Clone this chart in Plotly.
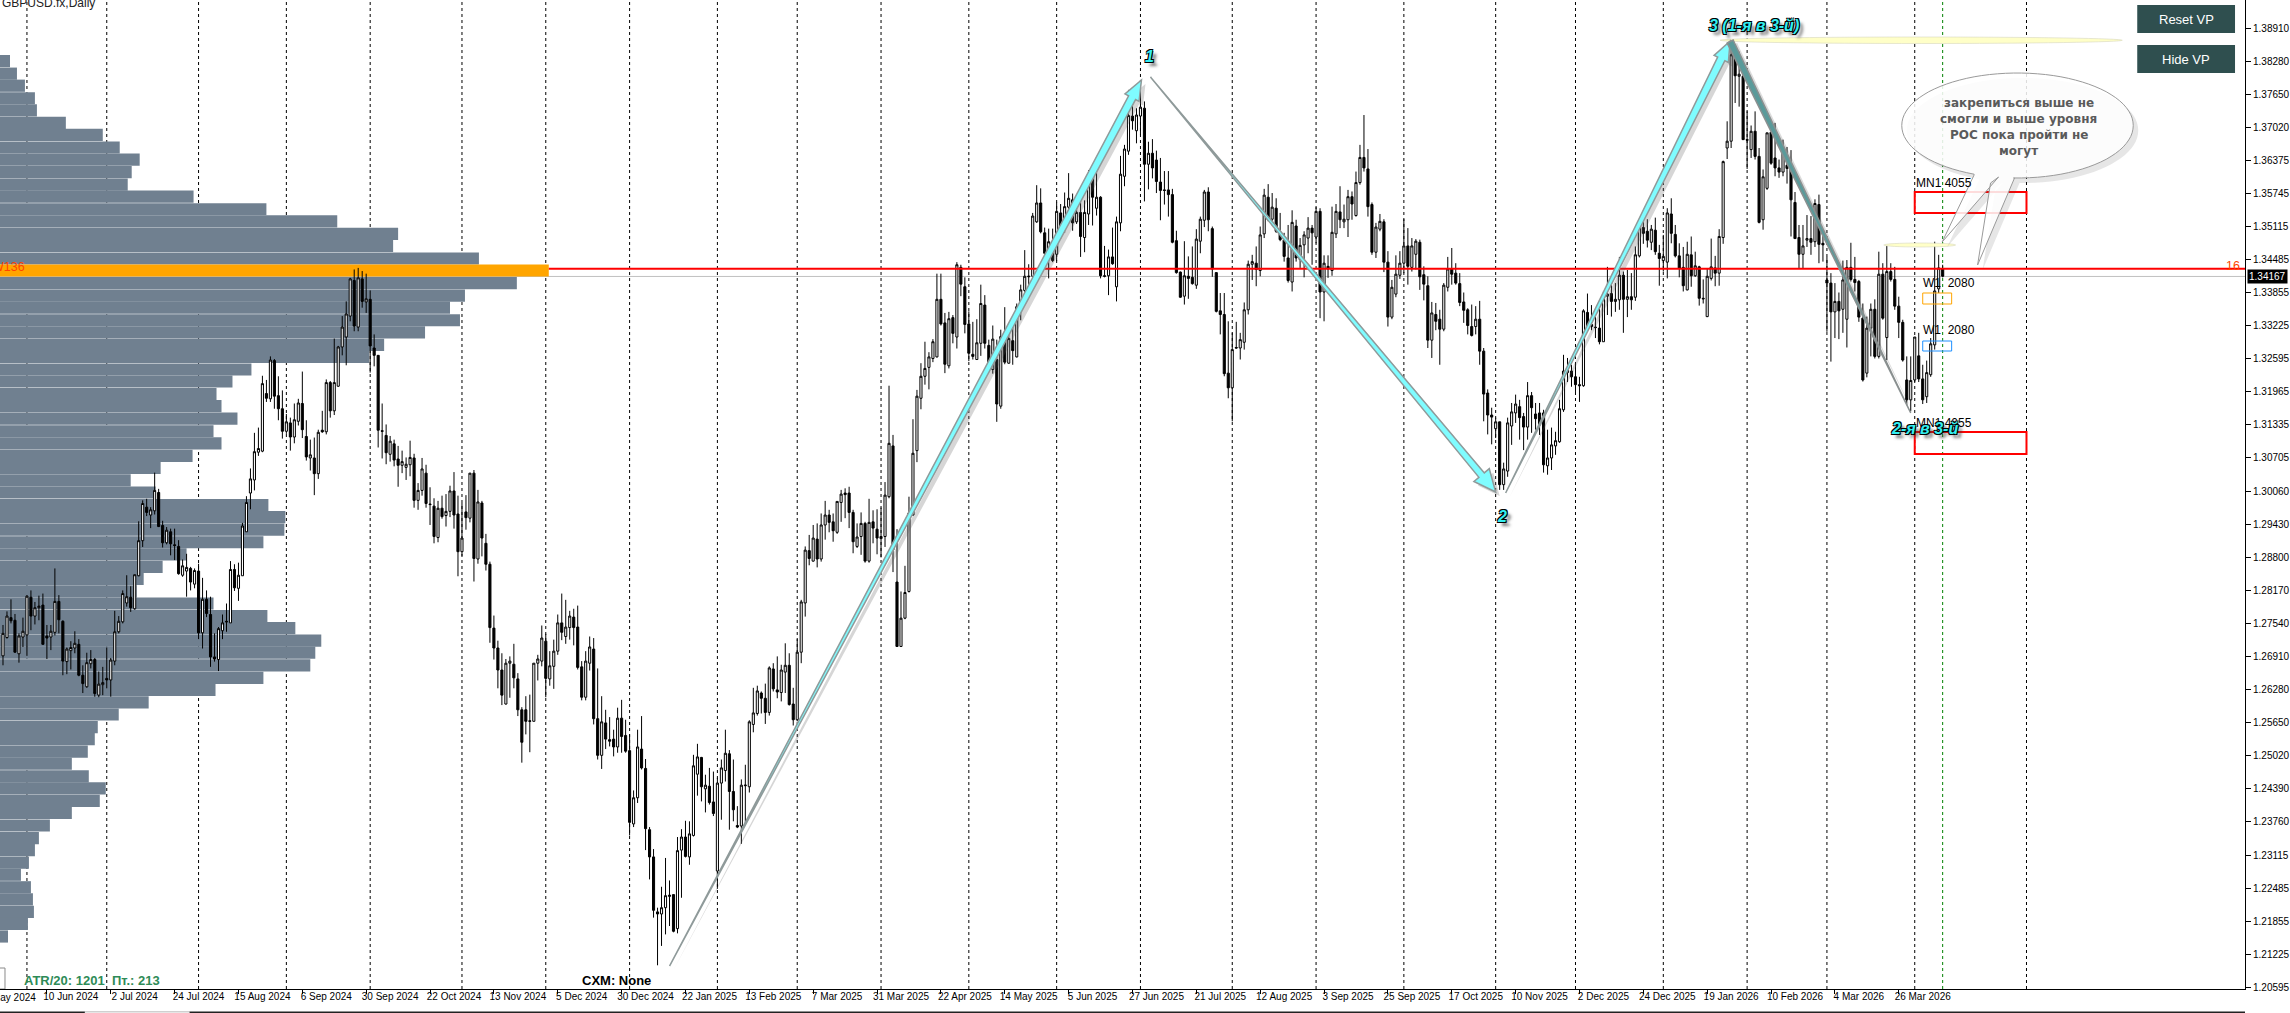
import math
import plotly.graph_objects as go

# GBPUSD daily bars
body_top = [
1.2735,1.2768,1.2765,1.2760,1.2730,1.2739,1.2806,1.2804,1.2784,1.2787,
1.2789,1.2730,1.2739,1.2796,1.2796,1.2758,1.2705,1.2708,1.2716,1.2714,
1.2655,1.2679,1.2685,1.2685,1.2638,1.2641,1.2649,1.2684,1.2738,1.2758,
1.2811,1.2805,1.2804,1.2847,1.2912,1.2983,1.2976,1.2971,1.3008,1.3004,
1.2941,1.2932,1.2929,1.2904,1.2901,1.2864,1.2861,1.2859,1.2855,1.2854,
1.2800,1.2800,1.2771,1.2690,1.2744,1.2755,1.2758,1.2857,1.2857,1.2846,
1.2940,1.2985,1.3030,1.3082,1.3088,1.3212,1.3193,1.3257,1.3256,1.3189,
1.3164,1.3139,1.3137,1.3143,1.3175,1.3174,1.3111,1.3076,1.3070,1.3119,
1.3123,1.3214,1.3214,1.3214,1.3282,1.3320,1.3345,1.3412,1.3409,1.3414,
1.3412,1.3374,1.3373,1.3280,1.3266,1.3122,1.3113,1.3102,1.3097,1.3068,
1.3063,1.3058,1.3071,1.3070,1.3008,1.3049,1.3041,1.2982,1.2978,1.2974,
1.2974,1.2968,1.3007,1.3007,1.2963,1.2917,1.2967,1.3041,1.3041,1.2986,
1.2984,1.2907,1.2867,1.2745,1.2707,1.2665,1.2678,1.2682,1.2676,1.2648,
1.2589,1.2589,1.2568,1.2678,1.2686,1.2726,1.2720,1.2673,1.2701,1.2755,
1.2755,1.2747,1.2768,1.2766,1.2747,1.2671,1.2682,1.2709,1.2705,1.2572,
1.2566,1.2564,1.2532,1.2533,1.2573,1.2573,1.2540,1.2511,1.2421,1.2518,
1.2514,1.2477,1.2360,1.2308,1.2203,1.2211,1.2234,1.2235,1.2236,1.2320,
1.2346,1.2346,1.2352,1.2482,1.2499,1.2498,1.2445,1.2443,1.2413,1.2449,
1.2478,1.2506,1.2505,1.2433,1.2368,1.2445,1.2445,1.2566,1.2583,1.2625,
1.2621,1.2611,1.2669,1.2667,1.2627,1.2665,1.2674,1.2674,1.2600,1.2699,
1.2795,1.2894,1.2893,1.2917,1.2915,1.2942,1.2961,1.2961,1.2948,1.2987,
1.3001,1.3003,1.3003,1.2966,1.2919,1.2945,1.2945,1.2947,1.2948,1.2934,
1.2920,1.2999,1.3098,1.3093,1.2833,1.2764,1.2813,1.2965,1.3079,1.3188,
1.3226,1.3241,1.3263,1.3292,1.3373,1.3373,1.3328,1.3336,1.3338,1.3439,
1.3434,1.3397,1.3326,1.3268,1.3290,1.3365,1.3362,1.3285,1.3297,1.3258,
1.3302,1.3298,1.3298,1.3294,1.3359,1.3391,1.3417,1.3417,1.3532,1.3557,
1.3557,1.3500,1.3483,1.3483,1.3541,1.3538,1.3550,1.3566,1.3563,1.3539,
1.3539,1.3539,1.3609,1.3609,1.3568,1.3568,1.3418,1.3454,1.3454,1.3521,
1.3612,1.3660,1.3724,1.3723,1.3725,1.3740,1.3738,1.3652,1.3652,1.3639,
1.3597,1.3582,1.3582,1.3573,1.3485,1.3425,1.3418,1.3417,1.3415,1.3488,
1.3526,1.3578,1.3578,1.3508,1.3424,1.3351,1.3344,1.3232,1.3277,1.3281,
1.3296,1.3353,1.3440,1.3445,1.3442,1.3496,1.3572,1.3568,1.3549,1.3547,
1.3501,1.3486,1.3452,1.3520,1.3513,1.3476,1.3496,1.3509,1.3509,1.3541,
1.3541,1.3442,1.3436,1.3501,1.3541,1.3540,1.3526,1.3569,1.3569,1.3596,
1.3644,1.3644,1.3622,1.3554,1.3511,1.3522,1.3521,1.3444,1.3396,1.3421,
1.3442,1.3475,1.3475,1.3475,1.3484,1.3482,1.3420,1.3399,1.3347,1.3344,
1.3335,1.3400,1.3431,1.3431,1.3423,1.3403,1.3368,1.3353,1.3321,1.3335,
1.3335,1.3274,1.3194,1.3152,1.3139,1.3139,1.3049,1.3137,1.3158,1.3173,
1.3168,1.3149,1.3189,1.3189,1.3154,1.3156,1.3156,1.3070,1.3095,1.3103,
1.3164,1.3236,1.3238,1.3236,1.3225,1.3210,1.3351,1.3348,1.3325,1.3320,
1.3318,1.3379,1.3383,1.3384,1.3373,1.3419,1.3419,1.3378,1.3378,1.3458,
1.3515,1.3510,1.3503,1.3507,1.3505,1.3461,1.3455,1.3538,1.3536,1.3497,
1.3456,1.3434,1.3459,1.3458,1.3437,1.3435,1.3375,1.3417,1.3435,1.3433,
1.3493,1.3636,1.3675,1.3840,1.3840,1.3803,1.3799,1.3678,1.3694,1.3694,
1.3646,1.3607,1.3691,1.3692,1.3643,1.3624,1.3659,1.3629,1.3623,1.3558,
1.3491,1.3475,1.3489,1.3489,1.3556,1.3554,1.3480,1.3410,1.3404,1.3369,
1.3369,1.3410,1.3434,1.3434,1.3411,1.3407,1.3337,1.3318,1.3354,1.3354,
1.3421,1.3421,1.3426,1.3426,1.3411,1.3360,1.3329,1.3219,1.3218,1.3301,
1.3265,1.3221,1.3233,1.3288,1.3389,1.3433,1.3431]
body_bottom = [
1.2692,1.2727,1.2759,1.2699,1.2696,1.2728,1.2732,1.2768,1.2768,1.2784,
1.2714,1.2726,1.2728,1.2737,1.2761,1.2682,1.2681,1.2702,1.2707,1.2655,
1.2639,1.2633,1.2677,1.2620,1.2617,1.2637,1.2646,1.2646,1.2682,1.2738,
1.2757,1.2793,1.2784,1.2782,1.2845,1.2912,1.2966,1.2961,1.2969,1.2939,
1.2908,1.2908,1.2906,1.2903,1.2849,1.2846,1.2854,1.2833,1.2829,1.2736,
1.2736,1.2773,1.2690,1.2686,1.2685,1.2740,1.2757,1.2755,1.2822,1.2821,
1.2845,1.2929,1.3003,1.3028,1.3081,1.3083,1.3184,1.3183,1.3188,1.3164,
1.3121,1.3121,1.3110,1.3110,1.3140,1.3124,1.3072,1.3070,1.3040,1.3040,
1.3120,1.3120,1.3160,1.3160,1.3207,1.3282,1.3301,1.3341,1.3322,1.3320,
1.3369,1.3368,1.3284,1.3266,1.3123,1.3121,1.3080,1.3077,1.3066,1.3056,
1.3056,1.3052,1.3057,1.2989,1.2989,1.3008,1.2983,1.2981,1.2920,1.2918,
1.2958,1.2960,1.2968,1.2961,1.2891,1.2891,1.2956,1.2955,1.2878,1.2877,
1.2917,1.2867,1.2746,1.2707,1.2665,1.2617,1.2600,1.2678,1.2650,1.2589,
1.2527,1.2567,1.2567,1.2567,1.2678,1.2682,1.2649,1.2648,1.2672,1.2701,
1.2737,1.2729,1.2746,1.2746,1.2670,1.2613,1.2613,1.2678,1.2572,1.2502,
1.2502,1.2533,1.2529,1.2518,1.2518,1.2538,1.2510,1.2374,1.2371,1.2421,
1.2478,1.2362,1.2308,1.2206,1.2199,1.2199,1.2211,1.2233,1.2166,1.2171,
1.2321,1.2309,1.2308,1.2349,1.2466,1.2442,1.2438,1.2412,1.2391,1.2281,
1.2449,1.2473,1.2433,1.2398,1.2365,1.2367,1.2444,1.2442,1.2561,1.2582,
1.2611,1.2584,1.2584,1.2629,1.2623,1.2622,1.2661,1.2599,1.2570,1.2570,
1.2699,1.2793,1.2878,1.2873,1.2877,1.2877,1.2942,1.2947,1.2931,1.2928,
1.2985,1.3000,1.2966,1.2910,1.2901,1.2920,1.2873,1.2873,1.2936,1.2917,
1.2916,1.2920,1.2996,1.2895,1.2710,1.2710,1.2764,1.2815,1.2961,1.3084,
1.3184,1.3226,1.3243,1.3260,1.3263,1.3326,1.3249,1.3246,1.3308,1.3301,
1.3402,1.3325,1.3270,1.3264,1.3258,1.3289,1.3289,1.3241,1.3239,1.3173,
1.3169,1.3253,1.3251,1.3275,1.3263,1.3359,1.3390,1.3416,1.3417,1.3521,
1.3502,1.3461,1.3459,1.3447,1.3459,1.3512,1.3510,1.3549,1.3519,1.3521,
1.3493,1.3491,1.3536,1.3568,1.3547,1.3418,1.3417,1.3418,1.3441,1.3397,
1.3519,1.3608,1.3656,1.3714,1.3695,1.3723,1.3631,1.3631,1.3624,1.3598,
1.3581,1.3581,1.3573,1.3482,1.3424,1.3377,1.3379,1.3413,1.3403,1.3400,
1.3484,1.3524,1.3525,1.3431,1.3350,1.3344,1.3231,1.3204,1.3204,1.3280,
1.3280,1.3291,1.3353,1.3440,1.3430,1.3428,1.3498,1.3525,1.3526,1.3503,
1.3487,1.3455,1.3409,1.3406,1.3452,1.3449,1.3477,1.3490,1.3500,1.3492,
1.3387,1.3387,1.3431,1.3428,1.3498,1.3525,1.3521,1.3525,1.3555,1.3533,
1.3596,1.3624,1.3550,1.3463,1.3463,1.3507,1.3444,1.3339,1.3339,1.3383,
1.3419,1.3442,1.3436,1.3434,1.3459,1.3416,1.3402,1.3295,1.3295,1.3331,
1.3316,1.3316,1.3396,1.3421,1.3404,1.3367,1.3352,1.3323,1.3304,1.3321,
1.3274,1.3192,1.3152,1.3148,1.3126,1.3019,1.3019,1.3045,1.3131,1.3156,
1.3147,1.3129,1.3129,1.3166,1.3145,1.3133,1.3057,1.3055,1.3070,1.3093,
1.3101,1.3162,1.3233,1.3225,1.3210,1.3208,1.3208,1.3320,1.3321,1.3319,
1.3292,1.3292,1.3379,1.3369,1.3369,1.3372,1.3373,1.3373,1.3372,1.3377,
1.3456,1.3499,1.3486,1.3482,1.3464,1.3451,1.3447,1.3444,1.3499,1.3456,
1.3432,1.3399,1.3391,1.3418,1.3418,1.3375,1.3374,1.3340,1.3413,1.3423,
1.3423,1.3491,1.3662,1.3675,1.3800,1.3799,1.3678,1.3677,1.3659,1.3646,
1.3520,1.3525,1.3585,1.3633,1.3624,1.3616,1.3616,1.3623,1.3563,1.3489,
1.3459,1.3459,1.3486,1.3482,1.3483,1.3478,1.3477,1.3404,1.3349,1.3349,
1.3351,1.3354,1.3335,1.3411,1.3405,1.3339,1.3219,1.3232,1.3318,1.3264,
1.3264,1.3337,1.3300,1.3411,1.3360,1.3329,1.3257,1.3181,1.3181,1.3219,
1.3221,1.3181,1.3187,1.3229,1.3286,1.3393,1.3417]
wick_top = [
1.2751,1.2777,1.2800,1.2772,1.2735,1.2765,1.2808,1.2817,1.2795,1.2807,
1.2811,1.2751,1.2751,1.2859,1.2808,1.2760,1.2708,1.2720,1.2739,1.2724,
1.2674,1.2698,1.2703,1.2688,1.2662,1.2671,1.2708,1.2688,1.2778,1.2768,
1.2817,1.2846,1.2825,1.2847,1.2949,1.2989,1.2992,1.2976,1.3042,1.3011,
1.2950,1.2938,1.2935,1.2935,1.2913,1.2876,1.2887,1.2862,1.2859,1.2868,
1.2841,1.2817,1.2805,1.2735,1.2747,1.2771,1.2792,1.2873,1.2867,1.2870,
1.2946,1.2997,1.3050,1.3118,1.3128,1.3227,1.3219,1.3264,1.3259,1.3226,
1.3199,1.3154,1.3147,1.3174,1.3183,1.3235,1.3142,1.3105,1.3109,1.3124,
1.3160,1.3220,1.3217,1.3298,1.3284,1.3341,1.3369,1.3414,1.3430,1.3433,
1.3427,1.3422,1.3390,1.3306,1.3266,1.3174,1.3134,1.3112,1.3105,1.3093,
1.3084,1.3071,1.3103,1.3078,1.3022,1.3070,1.3057,1.3014,1.2993,1.2988,
1.2998,1.3001,1.3017,1.3043,1.2998,1.2984,1.2999,1.3041,1.3047,1.3009,
1.2988,1.2925,1.2872,1.2769,1.2721,1.2697,1.2686,1.2691,1.2715,1.2659,
1.2594,1.2615,1.2618,1.2678,1.2694,1.2750,1.2734,1.2701,1.2723,1.2771,
1.2811,1.2799,1.2778,1.2782,1.2788,1.2682,1.2701,1.2729,1.2726,1.2668,
1.2615,1.2589,1.2575,1.2551,1.2593,1.2608,1.2570,1.2542,1.2435,1.2551,
1.2577,1.2495,1.2365,1.2323,1.2211,1.2251,1.2306,1.2263,1.2236,1.2346,
1.2361,1.2377,1.2376,1.2503,1.2524,1.2499,1.2465,1.2478,1.2471,1.2459,
1.2494,1.2551,1.2512,1.2494,1.2405,1.2456,1.2484,1.2569,1.2631,1.2635,
1.2624,1.2639,1.2672,1.2678,1.2691,1.2675,1.2716,1.2697,1.2631,1.2724,
1.2799,1.2901,1.2923,1.2942,1.2945,1.2964,1.2988,1.2971,1.2964,1.2987,
1.3009,1.3012,1.3015,1.2971,1.2945,1.2966,1.2948,1.2992,1.2970,1.2972,
1.2975,1.3024,1.3208,1.3114,1.2934,1.2815,1.2864,1.2996,1.3144,1.3200,
1.3251,1.3292,1.3272,1.3297,1.3422,1.3422,1.3347,1.3349,1.3343,1.3444,
1.3439,1.3415,1.3350,1.3330,1.3335,1.3401,1.3381,1.3296,1.3323,1.3296,
1.3315,1.3358,1.3313,1.3331,1.3365,1.3401,1.3467,1.3440,1.3538,1.3591,
1.3585,1.3510,1.3508,1.3508,1.3558,1.3555,1.3577,1.3614,1.3575,1.3568,
1.3565,1.3562,1.3620,1.3630,1.3620,1.3570,1.3475,1.3468,1.3510,1.3531,
1.3647,1.3668,1.3773,1.3773,1.3738,1.3792,1.3751,1.3674,1.3679,1.3657,
1.3643,1.3618,1.3618,1.3584,1.3504,1.3426,1.3484,1.3455,1.3474,1.3507,
1.3531,1.3582,1.3587,1.3512,1.3424,1.3385,1.3385,1.3331,1.3309,1.3330,
1.3309,1.3367,1.3447,1.3458,1.3474,1.3512,1.3584,1.3593,1.3576,1.3566,
1.3538,1.3500,1.3515,1.3543,1.3525,1.3490,1.3503,1.3530,1.3515,1.3549,
1.3547,1.3457,1.3457,1.3550,1.3555,1.3589,1.3554,1.3582,1.3579,1.3617,
1.3668,1.3725,1.3660,1.3558,1.3519,1.3536,1.3526,1.3465,1.3410,1.3457,
1.3465,1.3526,1.3509,1.3490,1.3488,1.3487,1.3436,1.3417,1.3368,1.3366,
1.3353,1.3404,1.3454,1.3471,1.3442,1.3423,1.3386,1.3356,1.3363,1.3360,
1.3370,1.3280,1.3201,1.3166,1.3147,1.3139,1.3061,1.3147,1.3175,1.3191,
1.3181,1.3156,1.3215,1.3196,1.3175,1.3175,1.3162,1.3124,1.3128,1.3120,
1.3181,1.3267,1.3261,1.3248,1.3252,1.3225,1.3354,1.3384,1.3362,1.3340,
1.3355,1.3388,1.3435,1.3416,1.3404,1.3454,1.3426,1.3429,1.3423,1.3474,
1.3524,1.3532,1.3526,1.3515,1.3529,1.3477,1.3496,1.3547,1.3566,1.3515,
1.3480,1.3473,1.3483,1.3493,1.3464,1.3437,1.3411,1.3432,1.3489,1.3456,
1.3507,1.3638,1.3713,1.3865,1.3859,1.3846,1.3824,1.3732,1.3705,1.3732,
1.3662,1.3621,1.3691,1.3692,1.3710,1.3640,1.3678,1.3664,1.3658,1.3578,
1.3515,1.3515,1.3534,1.3532,1.3564,1.3573,1.3505,1.3454,1.3423,1.3404,
1.3386,1.3447,1.3448,1.3481,1.3454,1.3410,1.3365,1.3340,1.3365,1.3373,
1.3464,1.3442,1.3475,1.3442,1.3435,1.3378,1.3334,1.3264,1.3264,1.3301,
1.3309,1.3248,1.3256,1.3299,1.3483,1.3458,1.3439]
wick_bottom = [
1.2674,1.2725,1.2754,1.2698,1.2679,1.2709,1.2692,1.2741,1.2752,1.2760,
1.2714,1.2686,1.2703,1.2731,1.2735,1.2655,1.2657,1.2666,1.2697,1.2653,
1.2621,1.2631,1.2668,1.2614,1.2613,1.2617,1.2630,1.2614,1.2674,1.2735,
1.2754,1.2786,1.2776,1.2780,1.2844,1.2900,1.2959,1.2936,1.2962,1.2938,
1.2899,1.2905,1.2884,1.2875,1.2847,1.2843,1.2805,1.2817,1.2821,1.2724,
1.2706,1.2766,1.2671,1.2681,1.2663,1.2724,1.2738,1.2755,1.2816,1.2797,
1.2845,1.2929,1.2972,1.3008,1.3074,1.3081,1.3177,1.3177,1.3164,1.3142,
1.3107,1.3116,1.3084,1.3098,1.3132,1.3108,1.3065,1.3046,1.2999,1.3030,
1.3118,1.3115,1.3147,1.3152,1.3206,1.3266,1.3247,1.3331,1.3312,1.3312,
1.3357,1.3347,1.3233,1.3245,1.3090,1.3069,1.3058,1.3063,1.3054,1.3015,
1.3041,1.3028,1.3035,1.2975,1.2971,1.2998,1.2975,1.2942,1.2907,1.2909,
1.2954,1.2939,1.2957,1.2935,1.2844,1.2883,1.2933,1.2947,1.2834,1.2868,
1.2882,1.2855,1.2717,1.2685,1.2630,1.2598,1.2599,1.2612,1.2630,1.2577,
1.2488,1.2542,1.2508,1.2567,1.2645,1.2672,1.2613,1.2635,1.2629,1.2694,
1.2722,1.2715,1.2723,1.2712,1.2666,1.2607,1.2607,1.2664,1.2561,1.2494,
1.2476,1.2514,1.2519,1.2500,1.2507,1.2507,1.2507,1.2349,1.2365,1.2411,
1.2475,1.2321,1.2265,1.2192,1.2101,1.2138,1.2160,1.2176,1.2164,1.2162,
1.2230,1.2307,1.2293,1.2347,1.2425,1.2414,1.2393,1.2408,1.2386,1.2247,
1.2379,1.2452,1.2360,1.2376,1.2363,1.2333,1.2373,1.2431,1.2546,1.2578,
1.2582,1.2562,1.2578,1.2624,1.2611,1.2605,1.2621,1.2597,1.2559,1.2567,
1.2678,1.2767,1.2865,1.2872,1.2861,1.2872,1.2914,1.2928,1.2910,1.2925,
1.2948,1.2955,1.2936,1.2888,1.2898,1.2885,1.2870,1.2870,1.2907,1.2886,
1.2880,1.2900,1.2993,1.2852,1.2709,1.2709,1.2762,1.2813,1.2960,1.3062,
1.3163,1.3210,1.3201,1.3253,1.3262,1.3323,1.3232,1.3241,1.3289,1.3279,
1.3379,1.3308,1.3255,1.3258,1.3258,1.3265,1.3279,1.3234,1.3231,1.3139,
1.3164,1.3249,1.3250,1.3248,1.3262,1.3333,1.3374,1.3384,1.3405,1.3519,
1.3499,1.3432,1.3413,1.3444,1.3446,1.3489,1.3500,1.3521,1.3504,1.3517,
1.3454,1.3463,1.3515,1.3514,1.3533,1.3413,1.3415,1.3381,1.3439,1.3369,
1.3503,1.3589,1.3649,1.3697,1.3671,1.3687,1.3560,1.3583,1.3604,1.3576,
1.3524,1.3554,1.3531,1.3480,1.3422,1.3376,1.3363,1.3374,1.3401,1.3393,
1.3461,1.3511,1.3503,1.3416,1.3348,1.3306,1.3226,1.3184,1.3140,1.3279,
1.3258,1.3277,1.3344,1.3410,1.3398,1.3417,1.3490,1.3522,1.3522,1.3500,
1.3484,1.3445,1.3405,1.3388,1.3445,1.3433,1.3415,1.3461,1.3439,1.3480,
1.3337,1.3331,1.3414,1.3418,1.3490,1.3509,1.3509,1.3492,1.3525,1.3531,
1.3592,1.3617,1.3531,1.3458,1.3452,1.3503,1.3425,1.3321,1.3335,1.3377,
1.3412,1.3423,1.3401,1.3426,1.3430,1.3391,1.3371,1.3280,1.3261,1.3314,
1.3248,1.3312,1.3388,1.3401,1.3401,1.3360,1.3328,1.3306,1.3302,1.3306,
1.3248,1.3140,1.3115,1.3096,1.3108,1.3009,1.3009,1.3034,1.3095,1.3137,
1.3105,1.3085,1.3105,1.3118,1.3124,1.3114,1.3042,1.3038,1.3047,1.3076,
1.3099,1.3158,1.3215,1.3206,1.3196,1.3177,1.3206,1.3314,1.3314,1.3299,
1.3287,1.3292,1.3343,1.3340,1.3349,1.3353,1.3309,1.3339,1.3353,1.3370,
1.3453,1.3479,1.3472,1.3467,1.3458,1.3399,1.3426,1.3413,1.3480,1.3453,
1.3415,1.3388,1.3390,1.3397,1.3416,1.3361,1.3365,1.3339,1.3409,1.3398,
1.3399,1.3479,1.3641,1.3662,1.3748,1.3741,1.3678,1.3622,1.3643,1.3640,
1.3518,1.3506,1.3582,1.3630,1.3608,1.3605,1.3608,1.3594,1.3493,1.3489,
1.3432,1.3432,1.3473,1.3458,1.3473,1.3442,1.3445,1.3311,1.3254,1.3299,
1.3297,1.3309,1.3281,1.3407,1.3388,1.3330,1.3216,1.3224,1.3264,1.3260,
1.3260,1.3334,1.3257,1.3407,1.3353,1.3299,1.3254,1.3171,1.3159,1.3215,
1.3215,1.3173,1.3175,1.3225,1.3277,1.3385,1.3415]
bar_up = [
1,1,0,0,1,1,1,0,1,1, 0,0,1,1,0,0,1,1,1,0, 0,1,1,0,1,1,0,1,1,1, 1,1,0,1,1,1,0,1,1,0,
0,1,0,0,0,1,1,0,1,0, 1,0,0,0,1,1,0,1,0,1, 1,1,1,1,1,1,0,1,0,0, 0,1,0,1,1,0,0,1,0,1,
0,1,0,1,1,1,1,1,0,1, 0,1,0,0,0,0,0,1,0,0, 1,1,1,0,1,1,0,0,0,1, 0,1,1,0,0,1,0,1,0,1,
0,0,0,0,0,0,1,1,0,0, 0,0,0,1,1,1,0,1,1,1, 0,1,1,0,0,0,1,1,0,0, 1,0,0,0,1,0,0,0,1,1,
0,0,0,0,0,1,1,0,0,1, 1,0,1,1,1,0,1,0,0,1, 1,1,0,0,0,1,1,1,1,1, 0,0,1,0,0,1,1,0,0,1,
1,1,0,1,0,1,1,0,0,1, 1,0,0,0,1,1,0,1,0,0, 1,1,1,0,0,1,1,1,1,1, 1,1,1,1,1,0,0,1,0,1,
0,0,0,0,1,1,0,0,1,0, 1,0,1,0,1,1,1,1,1,1, 0,0,1,0,1,0,1,1,0,1, 0,1,1,0,1,0,0,1,0,1,
1,1,1,0,1,1,0,1,0,0, 0,0,0,0,0,0,1,0,0,1, 1,1,0,0,0,0,0,0,1,0, 1,1,1,1,0,1,1,0,1,0,
0,0,0,1,0,1,1,1,0,1, 0,1,0,1,1,0,1,1,0,1, 1,0,0,0,1,1,0,0,1,1, 1,1,0,1,1,0,0,0,1,0,
0,1,1,0,0,0,0,0,0,1, 0,0,0,0,1,0,1,1,1,1, 0,0,1,0,0,0,0,1,1,1, 1,1,1,0,0,0,1,0,0,0,
0,1,1,0,1,1,0,1,0,1, 1,0,0,1,0,0,1,1,0,0, 0,0,1,0,1,0,0,1,1,0, 1,1,1,1,0,1,0,0,1,0,
0,1,1,0,0,0,1,0,0,0, 0,1,1,0,1,0,0,0,0,1, 0,1,1,0,0,0,0,1,1,0, 1,0,1,0,0,0,0,0,1,1,
0,0,1,1,1,1,0]
bar_open = [b if u else t for t, b, u in zip(body_top, body_bottom, bar_up)]
bar_close = [t if u else b for t, b, u in zip(body_top, body_bottom, bar_up)]
bar_index = list(range(len(bar_up)))

# volume profile on the left
profile_price = [
1.3828,1.3804,1.3781,1.3757,1.3734,1.3710,1.3687,1.3663,1.3640,1.3616,1.3592,1.3569,
1.3545,1.3522,1.3498,1.3475,1.3451,1.3428,1.3404,1.3380,1.3357,1.3333,1.3310,1.3286,
1.3263,1.3239,1.3216,1.3192,1.3169,1.3145,1.3121,1.3098,1.3074,1.3051,1.3027,1.3004,
1.2980,1.2957,1.2933,1.2909,1.2886,1.2862,1.2839,1.2815,1.2792,1.2768,1.2745,1.2721,
1.2698,1.2674,1.2650,1.2627,1.2603,1.2580,1.2556,1.2533,1.2509,1.2486,1.2462,1.2439,
1.2415,1.2392,1.2368,1.2344,1.2321,1.2297,1.2274,1.2250,1.2227,1.2203,1.2180,1.2156]
profile_volume = [
10,17,25,35,37,66,103,120,140,132,128,194,
267,338,399,394,480,550,518,466,451,461,426,385,
370,252,233,217,222,238,214,222,193,161,131,156,
269,286,285,264,187,163,144,137,214,268,296,322,
316,311,264,216,149,119,98,95,88,72,89,106,
100,72,50,39,35,29,21,31,33,34,28,8]
poc_price = 1.3428

price_ticks = [
1.38910,1.38280,1.37650,1.37020,1.36375,1.35745,1.35115,1.34485,1.33855,1.33225,
1.32595,1.31965,1.31335,1.30705,1.30060,1.29430,1.28800,1.28170,1.27540,1.26910,
1.26280,1.25650,1.25020,1.24390,1.23760,1.23115,1.22485,1.21855,1.21225,1.20595]
date_tick_bars = list(range(11, 476, 16))
date_labels = [
"10 Jun 2024","2 Jul 2024","24 Jul 2024","15 Aug 2024","6 Sep 2024",
"30 Sep 2024","22 Oct 2024","13 Nov 2024","5 Dec 2024","30 Dec 2024","22 Jan 2025",
"13 Feb 2025","7 Mar 2025","31 Mar 2025","22 Apr 2025","14 May 2025","5 Jun 2025",
"27 Jun 2025","21 Jul 2025","12 Aug 2025","3 Sep 2025","25 Sep 2025","17 Oct 2025",
"10 Nov 2025","2 Dec 2025","24 Dec 2025","19 Jan 2026","10 Feb 2026","4 Mar 2026","26 Mar 2026"]
first_date_label = "20 May 2024"
separator_bars = [6,26,49,71,92,115,136,157,179,199,220,242,264,285,308,329,351,374,394,416,437,457,479,507]
last_bar = 486
last_price = 1.34167
poc_line_price = 1.34315


def py(y):
    # screenshot row to price
    return 1.39447 - 0.000191 * y


def path_of(pts):
    return "M" + " L".join(f"{x:.1f},{py(y):.5f}" for x, y in pts) + " Z"


def arrow_pts(x0, y0, x1, y1, shaft, head_w, head_l):
    n = math.hypot(x1 - x0, y1 - y0)
    ux, uy = (x1 - x0) / n, (y1 - y0) / n
    vx, vy = -uy, ux
    bx, by = x1 - ux * head_l, y1 - uy * head_l
    return [
        (x0, y0),
        (bx + vx * shaft / 2, by + vy * shaft / 2),
        (bx + vx * head_w / 2, by + vy * head_w / 2),
        (x1, y1),
        (bx - vx * head_w / 2, by - vy * head_w / 2),
        (bx - vx * shaft / 2, by - vy * shaft / 2),
    ]


def shifted(pts, dx, dy):
    return [(x + dx, y + dy) for x, y in pts]


shapes = []
# month separators go under everything
for b in separator_bars:
    shapes.append(dict(type="line", xref="x", yref="paper", x0=4 * b + 3, x1=4 * b + 3, y0=0, y1=1,
                       line=dict(color="black", width=1, dash="3px,3px"), layer="below"))
shapes.append(dict(type="line", xref="x", yref="paper", x0=4 * last_bar + 3, x1=4 * last_bar + 3, y0=0, y1=1,
                   line=dict(color="#008000", width=1, dash="3px,3px"), layer="below"))
shapes.append(dict(type="line", xref="x", yref="y", x0=0, x1=2250, y0=last_price, y1=last_price,
                   line=dict(color="#c0c0c0", width=1), layer="below"))
shapes.append(dict(type="line", xref="x", yref="y", x0=550, x1=2250, y0=poc_line_price, y1=poc_line_price,
                   line=dict(color="#ff0000", width=2)))

# yellow highlights
for x0, x1, y0, y1 in [(1724, 2127, 37, 43.5), (1888, 1960, 243, 247)]:
    shapes.append(dict(type="circle", xref="x", yref="y", x0=x0, x1=x1, y0=py(y0), y1=py(y1),
                       fillcolor="#ffffc8", line=dict(color="rgba(215,215,190,0.6)", width=1)))

# boxes
for x0, x1, y0, y1, col, w in [(1919, 2031, 192, 213, "#ff0000", 2), (1919, 2031, 432, 454, "#ff0000", 2),
                               (1927, 1956, 293, 304, "#ffa500", 1), (1927, 1956, 341, 351, "#1e90ff", 1)]:
    shapes.append(dict(type="rect", xref="x", yref="y", x0=x0, x1=x1, y0=py(y0), y1=py(y1),
                       line=dict(color=col, width=w)))

# wave arrows
arrows = [arrow_pts(671, 966, 1144, 80, 8, 16, 20),
          arrow_pts(1153, 77, 1499, 492, 7, 20, 22),
          arrow_pts(1509, 493, 1734, 41, 8, 16, 20)]
for pts in arrows:
    shapes.append(dict(type="path", xref="x", yref="y", path=path_of(shifted(pts, 4, 4)),
                       fillcolor="rgba(90,90,90,0.25)", line=dict(width=0)))
    shapes.append(dict(type="path", xref="x", yref="y", path=path_of(pts),
                       fillcolor="#7ffcff", line=dict(color="#8f9a9a", width=1.5)))
last_leg = [(1915, 413), (1737, 40), (1731, 43)]
shapes.append(dict(type="path", xref="x", yref="y", path=path_of(shifted(last_leg, 4, 3)),
                   fillcolor="rgba(90,90,90,0.22)", line=dict(width=0)))
shapes.append(dict(type="path", xref="x", yref="y", path=path_of(last_leg),
                   fillcolor="#5a9a9a", line=dict(color="#8a9090", width=1.5)))

# speech bubble
bubble = []
for deg in range(112, 454, 4):
    t = math.radians(deg)
    bubble.append((2022 + 116 * math.cos(t), 125.5 + 52.5 * math.sin(t)))
bubble += [(2019, 178), (1982, 265), (1995, 183), (2003, 177), (1946.5, 242), (1978.5, 175)]
shapes.append(dict(type="path", xref="x", yref="y", path=path_of(shifted(bubble, 5, 5)),
                   fillcolor="rgba(80,80,80,0.14)", line=dict(width=0)))
shapes.append(dict(type="path", xref="x", yref="y", path=path_of(bubble),
                   fillcolor="rgba(255,255,255,0.86)", line=dict(color="#9a9a9a", width=1)))

# VP buttons
for y0, y1 in [(5, 33), (45, 73)]:
    shapes.append(dict(type="rect", xref="x", yref="y", x0=2142, x1=2240, y0=py(y0), y1=py(y1),
                       fillcolor="#2f4f4f", line=dict(width=0)))

# terminal bits along the bottom
shapes.append(dict(type="rect", xref="x", yref="y", x0=-2, x1=5, y0=py(968), y1=py(989),
                   fillcolor="white", line=dict(color="#8a8a8a", width=1)))
shapes.append(dict(type="line", xref="x", yref="paper", x0=0, x1=2290, y0=-0.0235, y1=-0.0235,
                   line=dict(color="#222222", width=1.5)))
shapes.append(dict(type="line", xref="x", yref="paper", x0=85, x1=190, y0=-0.0235, y1=-0.0235,
                   line=dict(color="#e6e6e6", width=2)))

SANS = "Liberation Sans"
OUTLINE = ("1px 1px 0 #000, -1px -1px 0 #000, 1px -1px 0 #000, -1px 1px 0 #000, "
           "4px 4px 3px rgba(60,60,60,0.7)")


def label(text, x, y, size=12, color="black", family=SANS, anchor="center", **font_kw):
    return dict(text=text, x=x, y=py(y), xref="x", yref="y", showarrow=False, xanchor=anchor, yanchor="middle",
                font=dict(family=family, size=size, color=color, **font_kw))


annotations = [
    label("GBPUSD.fx,Daily", 0, 3, 12, "#222222", anchor="left"),
    label("W136", 27, 267, 12.5, "#ff4500", anchor="right"),
    label("16", 2238, 266, 12.5, "#ff4500"),
    label("<b>ATR/20: 1201  Пт.: 213</b>", 22, 980, 13, "#2e8b57", anchor="left"),
    label("<b>CXM: None</b>", 618, 980, 13, "black"),
    label("MN1 4055", 1948, 183, 12),
    label("MN1 4055", 1948, 423, 12),
    label("W1  2080", 1953, 283, 12),
    label("W1  2080", 1953, 330, 12),
    label("<b><i>1</i></b>", 1152, 56, 16, "#33eef0", shadow=OUTLINE),
    label("<b><i>2</i></b>", 1505, 516, 16, "#33eef0", shadow=OUTLINE),
    label("<b><i>3 (1-я в 3-й)</i></b>", 1758, 25, 16, "#33eef0", shadow=OUTLINE),
    label("<b><i>2-я в 3-й</i></b>", 1929, 428, 16, "#33eef0", shadow=OUTLINE),
    label("<b>закрепиться выше не</b>", 2023, 103, 12, "#5a5a5a", "DejaVu Sans"),
    label("<b>смогли и выше уровня</b>", 2023, 119, 12, "#5a5a5a", "DejaVu Sans"),
    label("<b>РОС пока пройти не</b>", 2023, 135, 12, "#5a5a5a", "DejaVu Sans"),
    label("<b>могут</b>", 2023, 151, 12, "#5a5a5a", "DejaVu Sans"),
    label("Reset VP", 2191, 19, 13, "white"),
    label("Hide VP", 2191, 59, 13, "white"),
    dict(text="1.34167", x=2252 / 2250, y=last_price, xref="paper", yref="y", showarrow=False, xanchor="left",
         yanchor="middle", bgcolor="black", font=dict(family=SANS, size=10, color="white")),
    # first date sits half off the left edge, the axis would drop it
    dict(text=first_date_label, x=38 / 2250, y=-9 / 989, xref="paper", yref="paper", showarrow=False, xanchor="right",
         yanchor="middle", font=dict(family=SANS, size=10, color="black")),
]

fig = go.Figure()
fig.add_trace(go.Bar(
    orientation="h", x=profile_volume, y=profile_price, width=0.00233,
    marker=dict(color=["#ffa500" if p == poc_price else "#708090" for p in profile_price], line=dict(width=0)),
    hoverinfo="skip", showlegend=False,
))
fig.add_trace(go.Candlestick(
    x=bar_index, open=bar_open, high=wick_top, low=wick_bottom, close=bar_close, xaxis="x2", yaxis="y",
    increasing=dict(line=dict(color="black", width=1), fillcolor="white"),
    decreasing=dict(line=dict(color="black", width=1), fillcolor="black"),
    whiskerwidth=0, hoverinfo="skip", showlegend=False,
))
fig.update_layout(
    width=2290, height=1013,
    margin=dict(l=0, r=40, t=0, b=24),
    paper_bgcolor="white", plot_bgcolor="white",
    showlegend=False, boxgap=0.25,
    xaxis=dict(range=[0, 2250], showgrid=False, zeroline=False, showticklabels=False,
               tickvals=[4 * b + 3 for b in date_tick_bars], ticks="outside", ticklen=4, tickcolor="black",
               showline=True, linecolor="black", linewidth=1),
    xaxis2=dict(overlaying="x", anchor="y", side="bottom", range=[-0.75, 561.75], showgrid=False, zeroline=False,
                tickvals=[b + 6 for b in date_tick_bars], ticktext=date_labels, ticks="", ticklen=0, tickangle=0,
                tickfont=dict(family=SANS, size=10, color="black"), rangeslider=dict(visible=False), showline=False),
    yaxis=dict(side="right", range=[py(989), py(0)], showgrid=False, zeroline=False, tickvals=price_ticks,
               ticktext=[f"{p:.5f}" for p in price_ticks], ticks="outside", ticklen=5, tickcolor="black",
               tickfont=dict(family=SANS, size=10, color="black"), showline=True, linecolor="black", linewidth=1),
    shapes=shapes, annotations=annotations,
)

#fig.show()
fig.write_html("out.html", config={"displayModeBar": False},
               post_script="document.body.style.margin='0';document.documentElement.style.overflow='hidden';")
